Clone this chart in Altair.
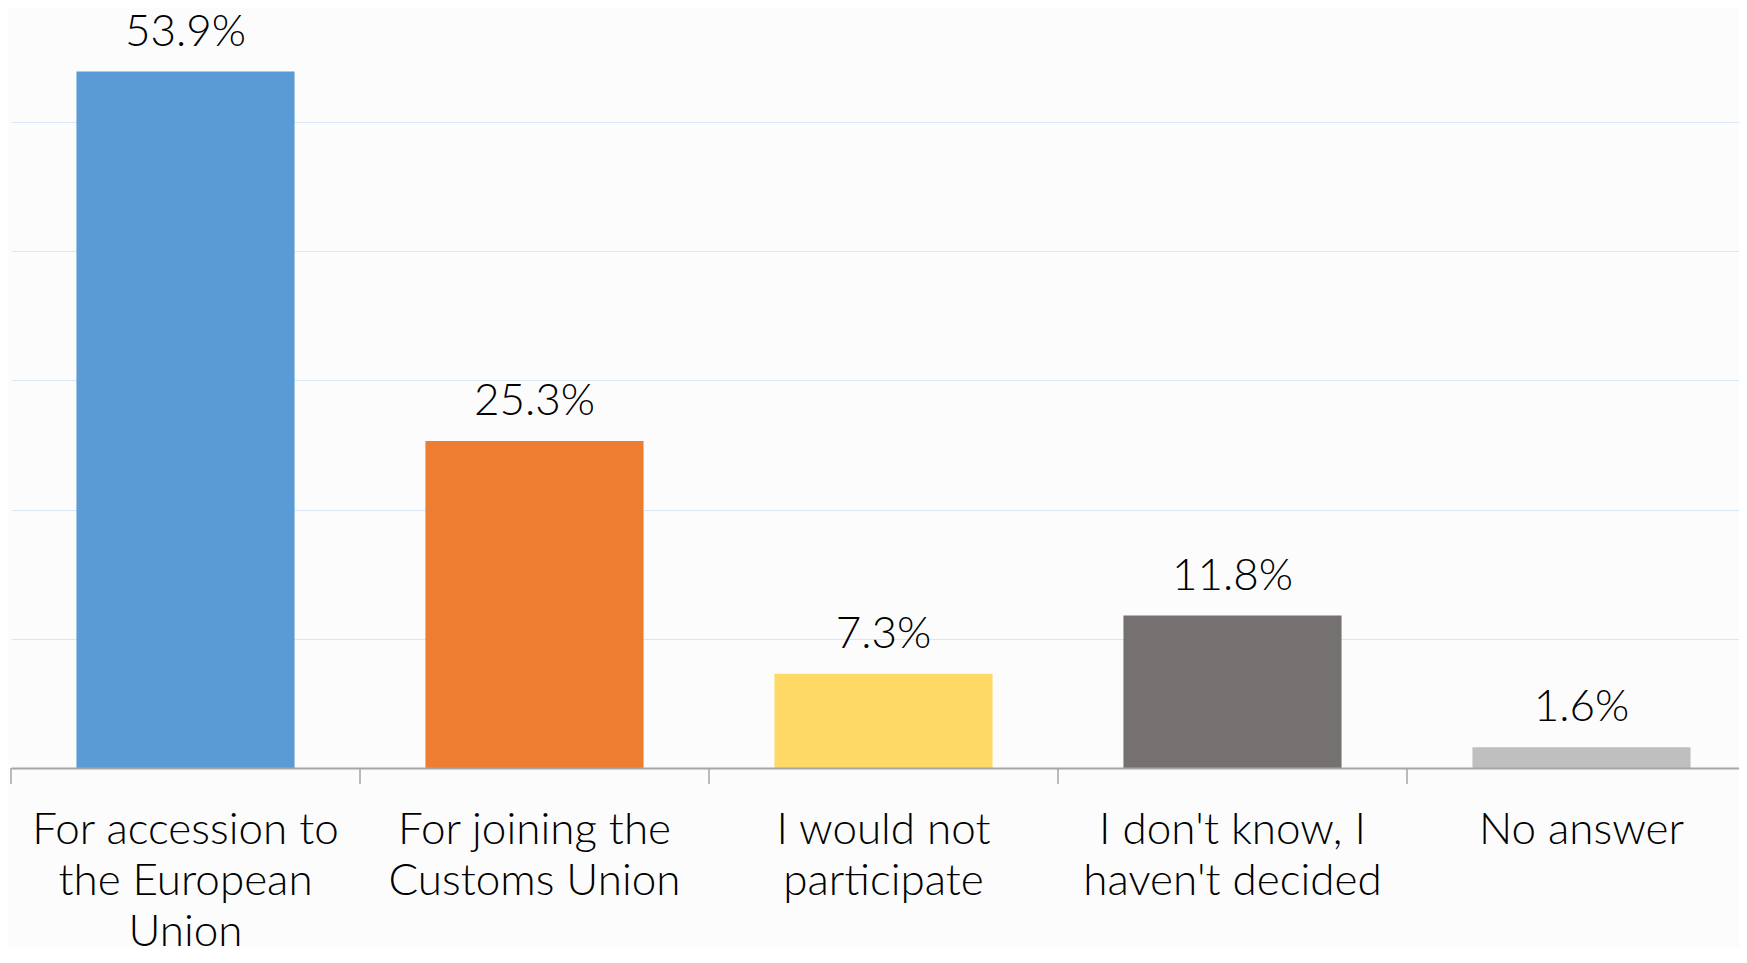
import altair as alt
import pandas as pd

categories = [
    "For accession to|the European|Union",
    "For joining the|Customs Union",
    "I would not|participate",
    "I don't know, I|haven't decided",
    "No answer",
]
values = [53.9, 25.3, 7.3, 11.8, 1.6]
colors = ["#5B9BD5", "#ED7D31", "#FED966", "#767171", "#BFBFBF"]
grid_values = [10, 20, 30, 40, 50]

df = pd.DataFrame({"cat": categories, "value": values, "color": colors})

W, H = 1728, 746
TOP = 14
FONT = "Lato"
STEP = 349.0
P_IN, P_OUT = 0.375, 0.1875

x_scale = alt.Scale(domain=categories, range=[0, STEP * 5], paddingInner=P_IN, paddingOuter=P_OUT)
y_scale = alt.Scale(domain=[0, 57.74], nice=False, zero=True)

base = alt.Chart(df)

bars = base.mark_bar().encode(
    x=alt.X("cat:N", scale=x_scale, sort=categories,
            axis=alt.Axis(title=None, labelAngle=0, ticks=False, domain=True,
                          domainColor="#A6A6A6", domainWidth=2, zindex=1,
                          labelFont=FONT, labelFontSize=44, labelFontWeight=300,
                          labelColor="#000000",
                          labelLimit=0, labelPadding=40, labelBaseline="top",
                          labelLineHeight=51,
                          labelExpr="split(datum.value, '|')")),
    y=alt.Y("value:Q", scale=y_scale,
            axis=alt.Axis(title=None, labels=False, ticks=False, domain=False,
                          grid=True, values=grid_values, gridColor="#D9E6F5",
                          gridWidth=1.2)),
    color=alt.Color("color:N", scale=None),
)

texts = base.mark_text(baseline="alphabetic", dy=-26, font=FONT, fontSize=44,
                       fontWeight=300, color="#000000").transform_calculate(
    lbl="format(datum.value, '.1f') + '%'"
).encode(
    x=alt.X("cat:N", scale=x_scale, sort=categories),
    y=alt.Y("value:Q", scale=y_scale),
    text="lbl:N",
)

ticks = base.mark_rule(color="#A6A6A6", strokeWidth=1.5, xOffset=-STEP * P_OUT).encode(
    x=alt.X("cat:N", scale=x_scale, sort=categories, bandPosition=0),
    y=alt.value(H),
    y2=alt.value(H + 16),
)

chart = alt.layer(bars, ticks, texts).properties(
    width=W, height=H,
    padding={"left": 3, "top": TOP, "right": 0, "bottom": 180},
    autosize=alt.AutoSizeParams(type="none"),
    background="#FCFCFC",
).configure_view(stroke=None)

chart.save("out.html", embed_options={"renderer": "svg", "actions": False})
